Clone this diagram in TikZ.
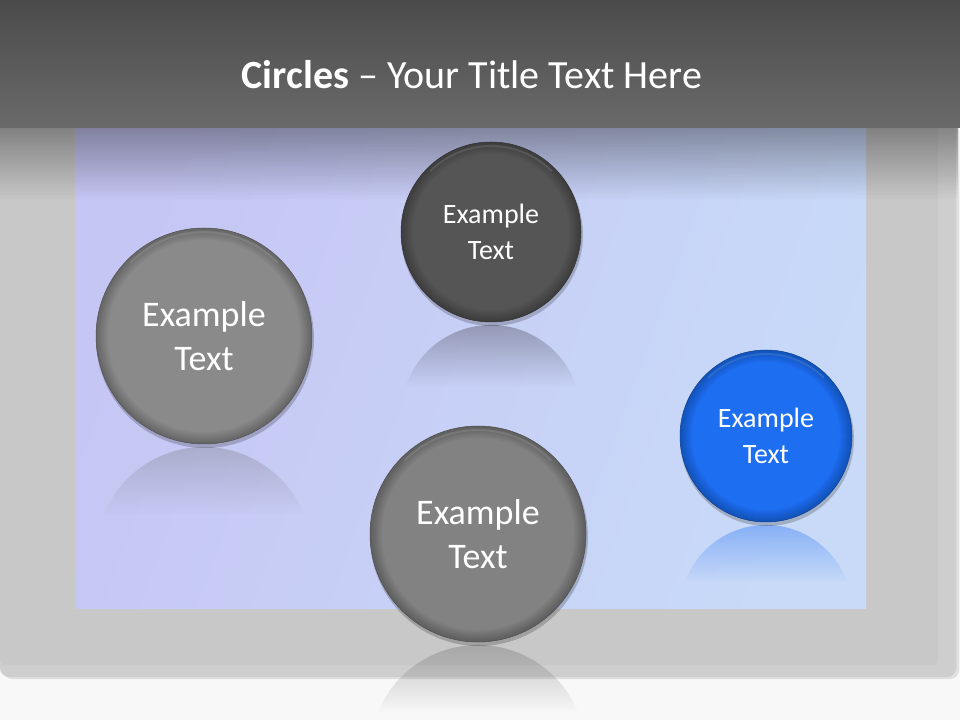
\documentclass[tikz,border=0pt]{standalone}
\usepackage{fontspec}
\setmainfont{Carlito}
\usetikzlibrary{fadings}
\definecolor{bgc}{HTML}{F8F8F8}
\definecolor{framec}{HTML}{C8C8C8}
\definecolor{frameedge}{HTML}{CECECE}
\definecolor{hdtop}{HTML}{4B4B4B}
\definecolor{hdbot}{HTML}{6A6A6A}
\definecolor{lavL}{HTML}{C6C6F4}
\definecolor{lavR}{HTML}{C8DAF8}
\definecolor{ballA}{HTML}{8A8A8A}
\definecolor{ballB}{HTML}{555555}
\definecolor{ballC}{HTML}{828282}
\definecolor{ballD}{HTML}{1E6EF2}
\definecolor{refA}{HTML}{8C8C9C}
\definecolor{refB}{HTML}{5A5A6C}
\definecolor{refD}{HTML}{3C82F4}
\newcommand\myball[7]{%
  \fill[black, opacity=0.2] (#2+1,#3-3) circle (#4+1);
  \fill[#5] (#2,#3) circle (#4);
  \foreach \k in {1,...,12}{%
    \draw[black, opacity=0.018, line width=\k] (#2,#3) circle (#4-\k/2);}
  \draw[white, opacity=0.1, line width=2] ({#2+(#4-4)*cos(45)},{#3+(#4-4)*sin(45)}) arc[start angle=45, end angle=135, radius=#4-4];
  \draw[black!40!#5, line width=0.5] (#2,#3) circle (#4);
  \node[circle, minimum size=2*#4, inner sep=0, text=white, align=center,
        font=\fontsize{#6}{#7}\selectfont] (#1) at (#2,#3) {Example\\Text};
}
\newcommand\myrefl[5]{%
  \pgfmathsetmacro\rcm{#2-2*#3-3}
  \pgfmathsetmacro\ra{asin((#3-#4)/#3)}
  \fill[#5, path fading=south, fill opacity=0.55]
    ({#1+#3*cos(\ra)},{\rcm+#3*sin(\ra)}) arc[start angle=\ra, end angle=180-\ra, radius=#3] -- cycle;
}
\begin{document}
\begin{tikzpicture}[x=1pt,y=1pt]
\useasboundingbox (0,0) rectangle (960,720);
\fill[bgc] (0,0) rectangle (960,720);
% frame
\fill[black!12, rounded corners=9] (3,41) rectangle (959,598);
\fill[frameedge, rounded corners=9] (0,43) rectangle (956,600);
\fill[framec, rounded corners=6] (0,55) rectangle (938,600);
% panel
\shade[left color=lavL, right color=lavR, shading angle=70] (75,112) rectangle (866,592);
% header shadow
\fill[black, path fading=south, fill opacity=0.35] (0,520) rectangle (960,592);
% header
\shade[top color=hdtop, bottom color=hdbot] (0,592) rectangle (960,720);
\node[text=white, font=\fontsize{40}{46}\selectfont] (title) at (472,645)
  {\textbf{Circles} -- Your Title Text Here};
% reflections
\myrefl{204}{384}{108}{68}{refA}
\myrefl{491}{488}{90}{62}{refB}
\myrefl{478}{186}{108}{68}{ballC}
\myrefl{766}{284}{86}{58}{refD}
% balls
\myball{c1}{204}{384}{108}{ballA}{36}{44}
\myball{c2}{491}{488}{90}{ballB}{28}{36}
\myball{c3}{478}{186}{108}{ballC}{36}{44}
\myball{c4}{766}{284}{86}{ballD}{28}{36}
\end{tikzpicture}
\end{document}
